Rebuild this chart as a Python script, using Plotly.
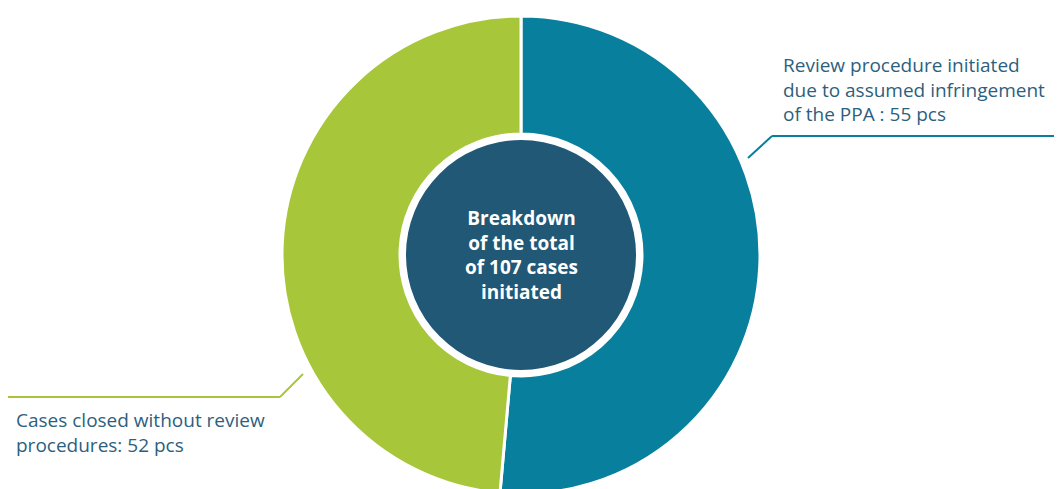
import plotly.graph_objects as go

categories = ["Review procedure initiated due to assumed infringement of the PPA", "Cases closed without review procedures"]
values = [55, 52]
total_label = ["Breakdown of the total of 107 cases initiated"]
total_value = [sum(values)]
colors = ["#08809d", "#a8c63a"]

W, H = 1062, 489
OFF = 8  # page body margin
cx, cy, R = 521, 255, 239
hole_r, inner_r = 121, 115

def fx(x):
    return (x - OFF) / W

def fy(y):
    return (H - (y - OFF)) / H

def px_dom(x0, x1, y0, y1):
    return dict(x=[fx(x0), fx(x1)], y=[fy(y1), fy(y0)])

fig = go.Figure()
fig.add_trace(go.Pie(
    labels=categories, values=values, sort=False, direction="clockwise", rotation=0,
    hole=hole_r / R, marker=dict(colors=colors, line=dict(color="white", width=3)),
    textinfo="none", hoverinfo="label+value", showlegend=False,
    domain=px_dom(cx - R, cx + R, cy - R, cy + R),
))
fig.add_trace(go.Pie(
    labels=total_label, values=total_value, sort=False,
    marker=dict(colors=["#205876"], line=dict(width=0)),
    textinfo="none", hoverinfo="label+value", showlegend=False,
    domain=px_dom(cx - inner_r, cx + inner_r, cy - inner_r, cy + inner_r),
))

label_color = "#2d5f7e"
font = "Open Sans"
fig.add_annotation(
    x=fx(cx), y=fy(cy), xref="paper", yref="paper",
    text="Breakdown<br>of the total<br>of 107 cases<br>initiated",
    showarrow=False, align="center",
    font=dict(family=font, size=19, color="white", weight="bold"),
)
fig.add_annotation(
    x=fx(781), y=fy(89), xref="paper", yref="paper", xanchor="left", yanchor="middle",
    text="Review procedure initiated<br>due to assumed infringement<br>of the PPA : 55 pcs",
    showarrow=False, align="left", font=dict(family=font, size=19, color=label_color),
)
fig.add_annotation(
    x=fx(14), y=fy(432), xref="paper", yref="paper", xanchor="left", yanchor="middle",
    text="Cases closed without review<br>procedures: 52 pcs",
    showarrow=False, align="left", font=dict(family=font, size=19, color=label_color),
)

def seg(x0, y0, x1, y1, color):
    fig.add_shape(type="line", xref="paper", yref="paper",
                  x0=fx(x0), y0=fy(y0), x1=fx(x1), y1=fy(y1),
                  line=dict(color=color, width=2))

seg(748, 158, 772, 136, colors[0])
seg(772, 136, 1070, 136, colors[0])
seg(303, 374, 280, 397, colors[1])
seg(280, 397, 8, 397, colors[1])

fig.update_layout(
    width=W, height=H, margin=dict(l=0, r=0, t=0, b=0),
    paper_bgcolor="white", plot_bgcolor="white",
)
fig.write_html("out.html")
